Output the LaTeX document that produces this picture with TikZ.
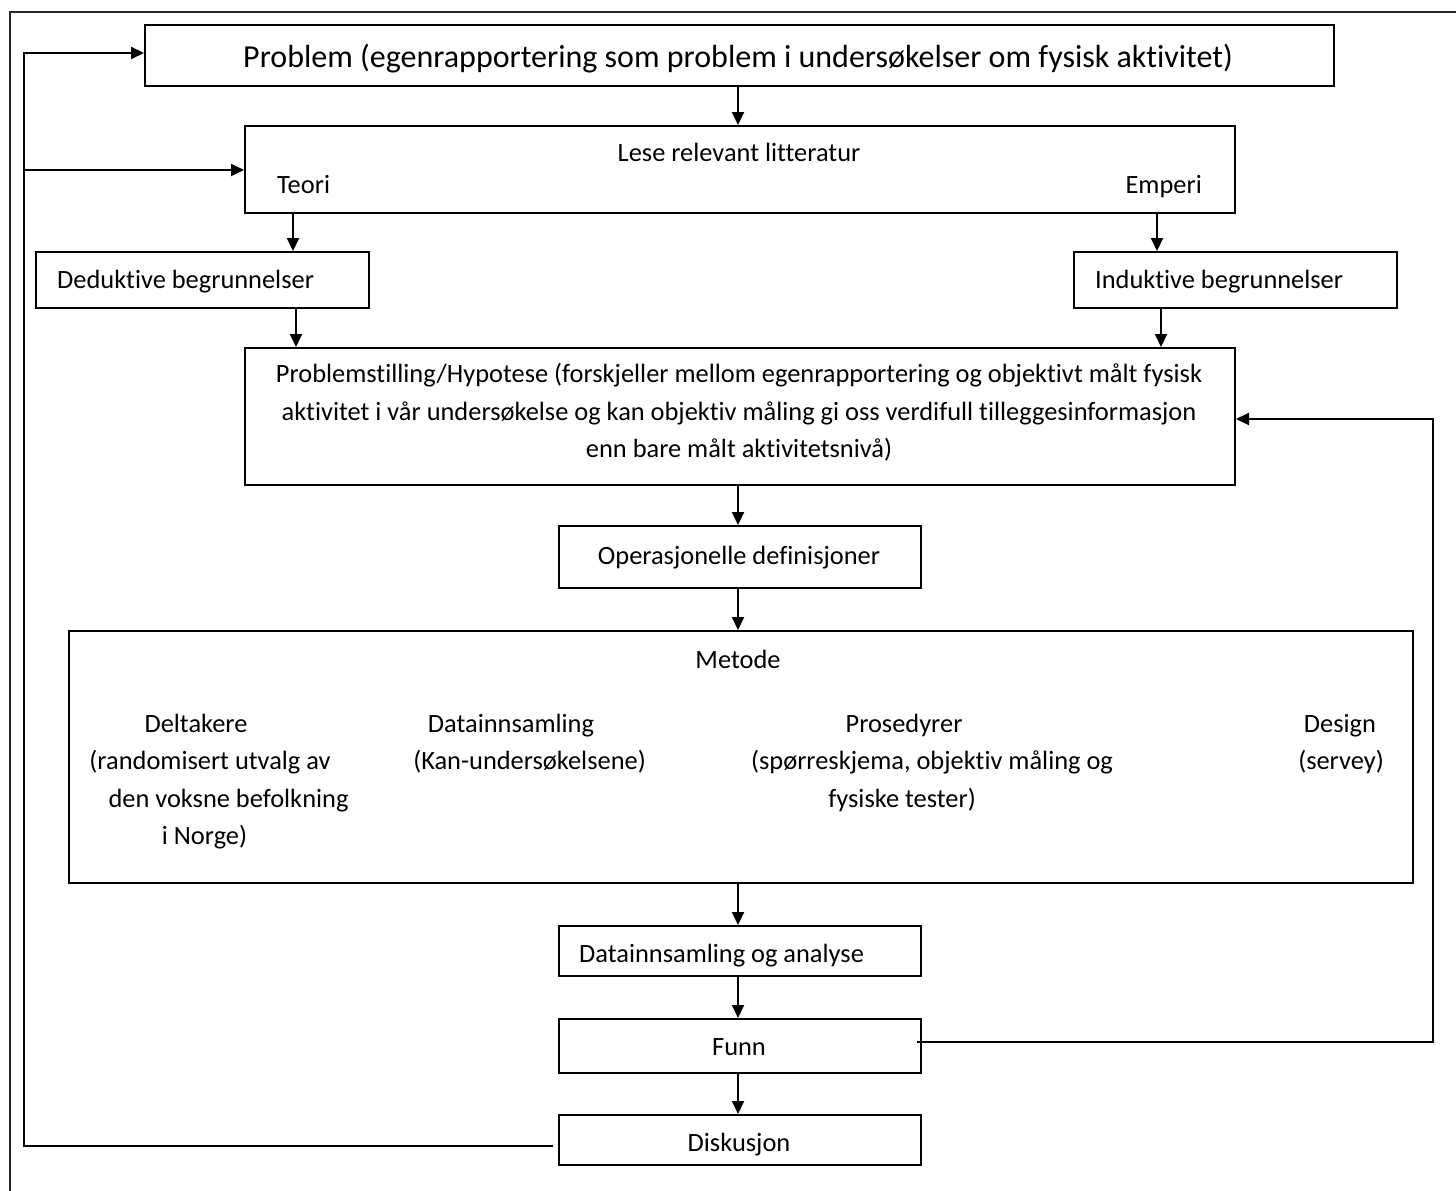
\documentclass[tikz,border=0pt]{standalone}
\usepackage{fontspec}
\setmainfont{Carlito}[Ligatures={NoCommon}]
\usetikzlibrary{arrows.meta}
\begin{document}
\begin{tikzpicture}[x=1pt,y=-1pt,
  box/.style={draw, line width=2pt, inner sep=0pt, anchor=north west},
  txt/.style={inner sep=0pt, anchor=base, font=\fontsize{26.4}{37.5}\selectfont},
  ttl/.style={inner sep=0pt, anchor=base, font=\fontsize{32}{38}\selectfont},
  arr/.style={line width=2pt, -{Triangle[length=13pt,width=12pt]}},
  ln/.style={line width=2pt},
  frame/.style={line width=1.6pt, black!85}]
\useasboundingbox (0,0) rectangle (1456,1191);
\clip (0,0) rectangle (1456,1191);
\draw[frame] (10,12) rectangle (1470,1205);

% boxes
\node[box, minimum width=1189, minimum height=61] (prob) at (144,24) {};
\node[box, minimum width=990, minimum height=87] (lese) at (244,125) {};
\node[box, minimum width=333, minimum height=56] (ded) at (35,251) {};
\node[box, minimum width=323, minimum height=56] (ind) at (1073,251) {};
\node[box, minimum width=990, minimum height=137] (hyp) at (244,347) {};
\node[box, minimum width=362, minimum height=62] (op) at (558,525) {};
\node[box, minimum width=1344, minimum height=252] (met) at (68,630) {};
\node[box, minimum width=362, minimum height=50] (dat) at (558,925) {};
\node[box, minimum width=362, minimum height=54] (funn) at (558,1018) {};
\node[box, minimum width=362, minimum height=50] (disk) at (558,1114) {};

% texts
\node[ttl] (tprob) at (738,67) {Problem (egenrapportering som problem i undersøkelser om fysisk aktivitet)};
\node[txt] (tlese) at (739,161) {Lese relevant litteratur};
\node[txt, anchor=base west] (tteori) at (277,193) {Teori};
\node[txt, anchor=base east] (temp) at (1202,193) {Emperi};
\node[txt, anchor=base west] (tded) at (57,288) {Deduktive begrunnelser};
\node[txt, anchor=base west] (tind) at (1095,288) {Induktive begrunnelser};
\node[txt] (th1) at (739,382) {Problemstilling/Hypotese (forskjeller mellom egenrapportering og objektivt målt fysisk};
\node[txt] (th2) at (739,420) {aktivitet i vår undersøkelse og kan objektiv måling gi oss verdifull tilleggesinformasjon};
\node[txt] (th3) at (739,457) {enn bare målt aktivitetsnivå)};
\node[txt] (top) at (739,564) {Operasjonelle definisjoner};
\node[txt] (tmet) at (738,668) {Metode};
\node[txt] (d1) at (196,732) {Deltakere};
\node[txt] (d2) at (210,769.5) {(randomisert utvalg av};
\node[txt] (d3) at (228.5,807) {den voksne befolkning};
\node[txt] (d4) at (204.5,844.5) {i Norge)};
\node[txt] (c1) at (511,732) {Datainnsamling};
\node[txt] (c2) at (529.5,769.5) {(Kan-undersøkelsene)};
\node[txt] (p1) at (904,732) {Prosedyrer};
\node[txt] (p2) at (932,769.5) {(spørreskjema, objektiv måling og};
\node[txt] (p3) at (902,807) {fysiske tester)};
\node[txt] (g1) at (1340,732) {Design};
\node[txt] (g2) at (1341,769.5) {(servey)};
\node[txt, anchor=base west] (tdat) at (579,962) {Datainnsamling og analyse};
\node[txt] (tfunn) at (739,1055) {Funn};
\node[txt] (tdisk) at (739,1151) {Diskusjon};

% helper coordinates
\coordinate (xa) at (293,0);
\coordinate (xb) at (296,0);
\coordinate (xc) at (1157,0);
\coordinate (xd) at (1161,0);
\coordinate (xm) at (738,0);
\coordinate (L) at (24,53);
\coordinate (Lb) at (24,170);
\coordinate (R) at (1433,419);

% arrows
\draw[arr] (prob.south -| xm) -- (lese.north -| xm);
\draw[arr] (lese.south -| xa) -- (ded.north -| xa);
\draw[arr] (ded.south -| xb) -- (hyp.north -| xb);
\draw[arr] (lese.south -| xc) -- (ind.north -| xc);
\draw[arr] (ind.south -| xd) -- (hyp.north -| xd);
\draw[arr] (hyp.south -| xm) -- (op.north -| xm);
\draw[arr] (op.south -| xm) -- (met.north -| xm);
\draw[arr] (met.south -| xm) -- (dat.north -| xm);
\draw[arr] (dat.south -| xm) -- (funn.north -| xm);
\draw[arr] (funn.south -| xm) -- (disk.north -| xm);

% feedback loops
\draw[arr] ([xshift=-5pt,yshift=-6pt]disk.west) -- ([yshift=-6pt]disk.west -| L) -- (L) -- (prob.west |- L);
\draw[arr] (Lb) -- (lese.west |- Lb);
\draw[arr] ([xshift=-5pt,yshift=4pt]funn.east) -- ([yshift=4pt]funn.east -| R) -- (R) -- (hyp.east |- R);
\end{tikzpicture}
\end{document}
